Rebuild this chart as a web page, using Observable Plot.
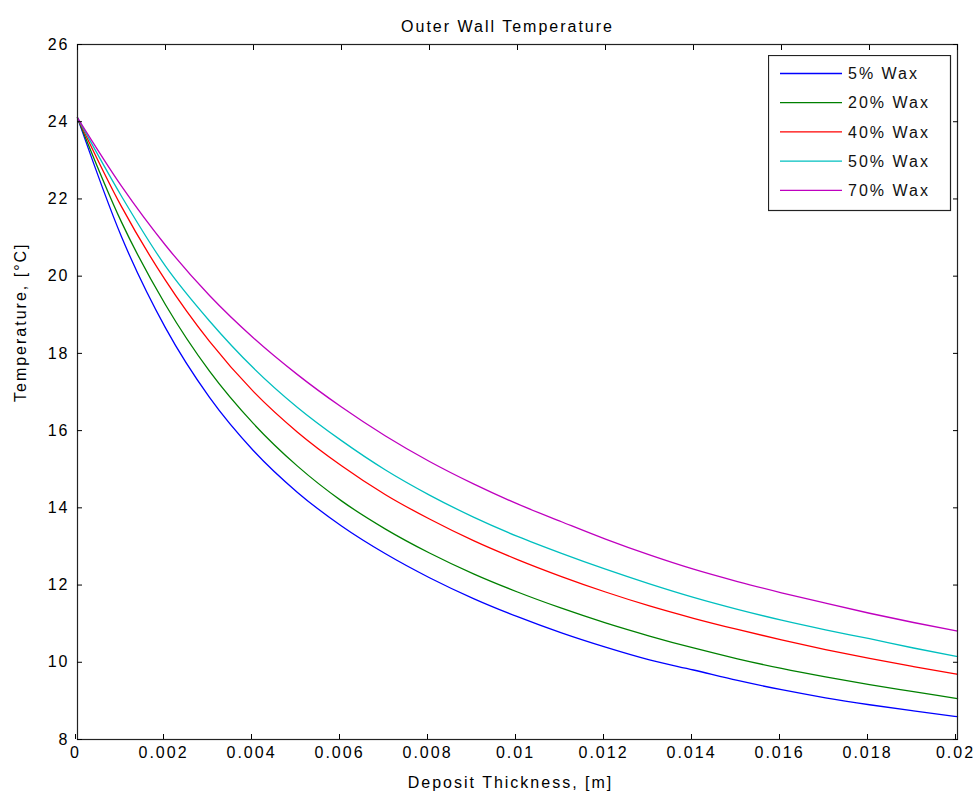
<!DOCTYPE html>
<html><head><meta charset="utf-8">
<script src="https://cdn.jsdelivr.net/npm/d3@7"></script>
<script src="https://cdn.jsdelivr.net/npm/@observablehq/plot@0.6"></script>
<style>
body{margin:0;background:#fff;}
#wrap{position:relative;width:980px;height:803px;}
#legend{position:absolute;left:768px;top:55px;}
svg text{font-family:"Liberation Sans",Arial,sans-serif;}
</style></head><body><div id="wrap"></div>
<script>
// Deposit thickness [m]
const thickness = [0, 0.001, 0.002, 0.003, 0.004, 0.005, 0.006, 0.007, 0.008, 0.009, 0.010,
                   0.011, 0.012, 0.013, 0.014, 0.015, 0.016, 0.017, 0.018, 0.019, 0.020];
const seriesNames = ["5% Wax", "20% Wax", "40% Wax", "50% Wax", "70% Wax"];
const seriesColors = ["#0000ff", "#008000", "#ff0000", "#00bfbf", "#bf00bf"];
// Outer wall temperature [°C]
const wax5  = [24.1, 21.02, 18.66, 16.86, 15.48, 14.40, 13.53, 12.81, 12.19, 11.65, 11.18, 10.76, 10.39, 10.06, 9.80, 9.53, 9.29, 9.08, 8.90, 8.74, 8.59];
const wax20 = [24.1, 21.40, 19.26, 17.54, 16.18, 15.08, 14.18, 13.45, 12.83, 12.29, 11.82, 11.40, 11.02, 10.68, 10.37, 10.09, 9.84, 9.62, 9.42, 9.24, 9.06];
const wax40 = [24.1, 21.80, 19.89, 18.31, 17.01, 15.96, 15.09, 14.34, 13.71, 13.15, 12.66, 12.22, 11.82, 11.46, 11.14, 10.85, 10.58, 10.33, 10.10, 9.89, 9.69];
const wax50 = [24.1, 22.07, 20.26, 18.84, 17.62, 16.60, 15.74, 14.98, 14.33, 13.76, 13.26, 12.82, 12.41, 12.03, 11.68, 11.37, 11.09, 10.84, 10.61, 10.37, 10.15];
const wax70 = [24.1, 22.33, 20.80, 19.50, 18.40, 17.45, 16.61, 15.86, 15.20, 14.62, 14.10, 13.64, 13.19, 12.78, 12.41, 12.09, 11.80, 11.53, 11.27, 11.03, 10.81];
const xTicks = [0, 0.002, 0.004, 0.006, 0.008, 0.01, 0.012, 0.014, 0.016, 0.018, 0.02];
const yTicks = [8, 10, 12, 14, 16, 18, 20, 22, 24, 26];
const titleText = "Outer Wall Temperature";
const xLabel = "Deposit Thickness, [m]";
const yLabel = "Temperature, [\u00B0C]";

const allSeries = [wax5, wax20, wax40, wax50, wax70];
const rows = [];
allSeries.forEach((vals, i) => vals.forEach((v, j) => rows.push({series: seriesNames[i], x: thickness[j], y: v})));

const fmt = d => String(+d.toFixed(3));

const chart = Plot.plot({
  width: 980, height: 803,
  marginLeft: 77, marginRight: 23, marginTop: 44, marginBottom: 64,
  style: {fontFamily: '"Liberation Sans",Arial,sans-serif', fontSize: "16px", letterSpacing: "2px", background: "white", color: "black"},
  x: {domain: [0, 0.02]},
  y: {domain: [8, 26]},
  color: {domain: seriesNames, range: seriesColors},
  marks: [
    Plot.line(rows, {x: "x", y: "y", z: "series", stroke: "series", curve: "monotone-x", strokeWidth: 1.3}),
    Plot.frame({stroke: "#222", strokeWidth: 1.2}),
    Plot.axisX({anchor: "bottom", ticks: xTicks, tickSize: -5, tickPadding: 12, tickFormat: fmt, label: null, dx: -2}),
    Plot.axisX({anchor: "top", ticks: xTicks, tickSize: -5, tickFormat: () => "", label: null}),
    Plot.axisY({anchor: "left", ticks: yTicks, tickSize: -5, tickPadding: 13, tickFormat: d => String(d), label: null}),
    Plot.axisY({anchor: "right", ticks: yTicks, tickSize: -5, tickFormat: () => "", label: null}),
    Plot.text([titleText], {text: d => d, frameAnchor: "top", dy: -24, dx: -10}),
    Plot.text([xLabel], {text: d => d, frameAnchor: "bottom", dy: 48, dx: -7}),
    Plot.text([yLabel], {text: d => d, frameAnchor: "left", rotate: -90, dx: -57, dy: 10})
  ]
});
document.getElementById("wrap").appendChild(chart);

// Legend
const lg = d3.select("#wrap").append("svg").attr("id", "legend").attr("width", 184).attr("height", 157);
lg.append("rect").attr("x", 0.5).attr("y", 0.5).attr("width", 182).attr("height", 155)
  .attr("fill", "white").attr("stroke", "#222").attr("stroke-width", 1.2);
seriesNames.forEach((name, i) => {
  const yy = 18.5 + i * 29.2;
  lg.append("line").attr("x1", 12).attr("x2", 74).attr("y1", yy).attr("y2", yy)
    .attr("stroke", seriesColors[i]).attr("stroke-width", 1.3);
  lg.append("text").attr("x", 80).attr("y", yy).attr("dy", "0.35em")
    .attr("font-size", 16).attr("letter-spacing", "2px").attr("fill", "#111").text(name);
});
</script>
</body></html>
